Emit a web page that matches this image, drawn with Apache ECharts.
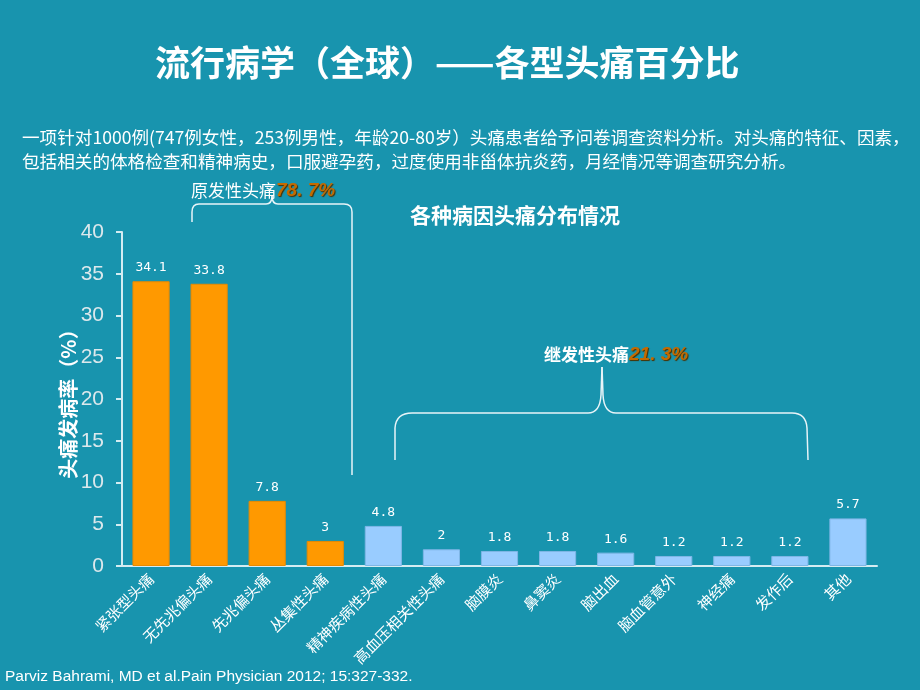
<!DOCTYPE html>
<html><head><meta charset="utf-8">
<script src="https://cdn.jsdelivr.net/npm/echarts@6/dist/echarts.min.js"></script>
<style>html,body{margin:0;padding:0;background:#1894ae;}#c{width:920px;height:690px;}</style>
</head><body><div id="c"></div>
<script>
const categories = ['紧张型头痛','无先兆偏头痛','先兆偏头痛','丛集性头痛','精神疾病性头痛','高血压相关性头痛','脑膜炎','鼻窦炎','脑出血','脑血管意外','神经痛','发作后','其他'];
const values = [34.1, 33.8, 7.8, 3, 4.8, 2, 1.8, 1.8, 1.6, 1.2, 1.2, 1.2, 5.7];
const groups = ['primary','primary','primary','primary','secondary','secondary','secondary','secondary','secondary','secondary','secondary','secondary','other'];
const yTicks = [0, 5, 10, 15, 20, 25, 30, 35, 40];

const CJK = '"Noto Sans CJK SC", "Liberation Sans", sans-serif';
const chart = echarts.init(document.getElementById('c'));
const colorOf = g => g === 'primary' ? '#FF9900' : '#99CCFF';
const borderOf = g => g === 'primary' ? '#e88a00' : '#7fb6e6';

function brace(start, cmds) {
  const els = [];
  let [px, py] = start;
  const st = { stroke: '#e8f4f8', lineWidth: 1.5, fill: null };
  cmds.forEach(c => {
    if (c[0] === 'L') {
      els.push({ type: 'line', shape: { x1: px, y1: py, x2: c[1], y2: c[2] }, style: st, silent: true });
      px = c[1]; py = c[2];
    } else {
      els.push({ type: 'bezierCurve', shape: { x1: px, y1: py, cpx1: c[1], cpy1: c[2], x2: c[3], y2: c[4] }, style: st, silent: true });
      px = c[3]; py = c[4];
    }
  });
  return els;
}
const primaryBrace = brace([192, 222], [['L',192,212],['Q',192,204,199,204],['L',266,204],['Q',272,204,272,196],['Q',272,204,278,204],['L',344,204],['Q',352,204,352,212],['L',352,475]]);
const secondaryBrace = brace([395, 460], [['L',395,428],['Q',396,413,412,413],['L',588,413],['Q',600,413,601,395],['L',602,367],['L',603,395],['Q',604,413,616,413],['L',792,413],['Q',806,413,807,428],['L',808,460]]);

chart.setOption({
  backgroundColor: '#1894ae',
  animation: false,
  title: [
    { text: '流行病学（全球）——各型头痛百分比', left: 150, top: 40,
      textStyle: { color: '#ffffff', fontSize: 35, fontWeight: 'bold', fontFamily: CJK } },
    { text: '各种病因头痛分布情况', left: 405, top: 200,
      textStyle: { color: '#ffffff', fontSize: 21, fontWeight: 'bold', fontFamily: CJK } }
  ],
  grid: { left: 122, right: 43, top: 232, bottom: 124 },
  xAxis: {
    type: 'category', data: categories,
    axisLine: { lineStyle: { color: '#d4ecf2', width: 2 } },
    axisTick: { show: false },
    axisLabel: { rotate: 45, color: '#ffffff', fontSize: 15, fontFamily: CJK, margin: 10, interval: 0 }
  },
  yAxis: {
    type: 'value', min: 0, max: 40, interval: 5,
    name: '头痛发病率（%）', nameLocation: 'middle', nameGap: 44, nameRotate: 90, nameMoveOverlap: false,
    nameTextStyle: { color: '#ffffff', fontSize: 20, fontWeight: 'bold', fontFamily: CJK },
    axisLine: { show: true, lineStyle: { color: '#d4ecf2', width: 2 } },
    axisTick: { show: true, length: 6, lineStyle: { color: '#d4ecf2', width: 2 } },
    axisLabel: { color: '#dce8ec', fontSize: 21, fontFamily: '"Liberation Sans", Arial, sans-serif', margin: 18,
      formatter: v => yTicks.includes(v) ? String(v) : '' },
    splitLine: { show: false }
  },
  series: [{
    type: 'bar', barWidth: '64%',
    data: values.map((v, i) => ({ value: v, itemStyle: { color: colorOf(groups[i]), borderColor: borderOf(groups[i]), borderWidth: 1 } })),
    label: { show: true, position: 'top', distance: 7, color: '#ffffff', fontSize: 13, fontFamily: '"DejaVu Sans Mono", monospace' }
  }],
  graphic: [
    { type: 'text', left: 22, top: 125, style: { text: '一项针对1000例(747例女性，253例男性，年龄20-80岁）头痛患者给予问卷调查资料分析。对头痛的特征、因素，\n包括相关的体格检查和精神病史，口服避孕药，过度使用非甾体抗炎药，月经情况等调查研究分析。', fill: '#ffffff', font: '17.6px ' + CJK, lineHeight: 24 } },
    ...primaryBrace,
    ...secondaryBrace,
    { type: 'text', left: 191, top: 181, style: { text: '{a|原发性头痛}{b|78. 7%}', rich: {
        a: { fill: '#ffffff', fontSize: 17, fontFamily: CJK },
        b: { fill: '#c46a00', fontSize: 19, fontStyle: 'italic', fontWeight: 'bold', fontFamily: '"Liberation Sans", Arial', textShadowColor: '#4a3000', textShadowOffsetX: 1, textShadowOffsetY: 1, textShadowBlur: 1 } } } },
    { type: 'text', left: 544, top: 345, style: { text: '{a|继发性头痛}{b|21. 3%}', rich: {
        a: { fill: '#ffffff', fontSize: 17, fontWeight: 'bold', fontFamily: CJK },
        b: { fill: '#c46a00', fontSize: 19, fontStyle: 'italic', fontWeight: 'bold', fontFamily: '"Liberation Sans", Arial', textShadowColor: '#4a3000', textShadowOffsetX: 1, textShadowOffsetY: 1, textShadowBlur: 1 } } } },
    { type: 'text', left: 5, top: 669, style: { text: 'Parviz Bahrami, MD et al.Pain Physician 2012; 15:327-332.', fill: '#ffffff', font: '15.5px "Liberation Sans", Arial, sans-serif' } }
  ]
});
</script></body></html>
